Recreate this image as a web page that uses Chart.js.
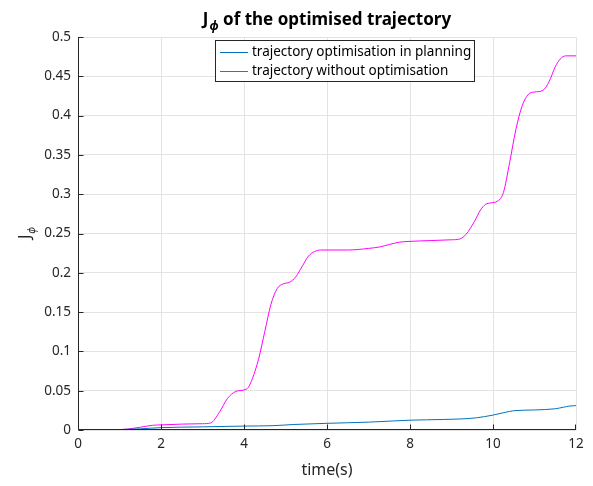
<!DOCTYPE html>
<html>
<head>
<meta charset="utf-8">
<script src="https://cdn.jsdelivr.net/npm/chart.js@4.4.1/dist/chart.umd.min.js"></script>
<style>
  html, body { margin: 0; padding: 0; background: #ffffff; }
  #wrap { width: 593px; height: 486px; position: relative; }
</style>
</head>
<body>
<div id="wrap"><canvas id="c" width="593" height="486"></canvas></div>
<script>
// Cost J_phi over time for the two trajectories
const seriesNames = ['trajectory optimisation in planning', 'trajectory without optimisation'];

const timePlanned = [0, 1.0, 1.5, 2.0, 3.0, 4.0, 4.7, 5.2, 6.0, 7.0, 7.6, 8.0, 8.4, 9.2, 9.6, 10.0, 10.3, 10.5, 11.0, 11.5, 11.7, 11.85, 12.0];
const jPlanned    = [0, 0.0005, 0.0015, 0.003, 0.004, 0.005, 0.0055, 0.007, 0.0085, 0.010, 0.0115, 0.0125, 0.013, 0.014, 0.0155, 0.019, 0.0225, 0.0245, 0.0255, 0.027, 0.029, 0.0305, 0.031];

const timeRaw = [0, 1.0, 1.2, 1.5, 1.8, 2.0, 2.5, 3.0, 3.2, 3.4, 3.6, 3.8, 4.0, 4.1, 4.2, 4.35, 4.5, 4.65, 4.8, 4.95,
                 5.1, 5.25, 5.4, 5.55, 5.7, 5.85, 6.0, 6.5, 7.0, 7.28, 7.5, 7.75, 8.0, 8.5, 9.0, 9.2, 9.35, 9.55,
                 9.7, 9.82, 9.95, 10.1, 10.25, 10.4, 10.55, 10.7, 10.85, 11.0, 11.2, 11.35, 11.5, 11.62, 11.75, 12.0];
const jRaw    = [0, 0.0005, 0.0012, 0.0035, 0.006, 0.0065, 0.0075, 0.008, 0.009, 0.022, 0.040, 0.049, 0.051, 0.054, 0.065, 0.09, 0.125, 0.16, 0.18, 0.186,
                 0.188, 0.195, 0.208, 0.221, 0.227, 0.229, 0.229, 0.229, 0.231, 0.233, 0.236, 0.239, 0.240, 0.241, 0.242, 0.243, 0.249, 0.265,
                 0.280, 0.287, 0.289, 0.291, 0.302, 0.340, 0.382, 0.412, 0.427, 0.430, 0.432, 0.443, 0.462, 0.472, 0.476, 0.476];

const xTicks = [0, 2, 4, 6, 8, 10, 12];
const yTicks = [0, 0.05, 0.1, 0.15, 0.2, 0.25, 0.3, 0.35, 0.4, 0.45, 0.5];

const FONT = '"Noto Sans", "Open Sans", sans-serif';
const AXIS_COLOR = '#262626';

function toPoints(xs, ys) { return xs.map((x, i) => ({ x: x, y: ys[i] })); }

// Axis lines, inward ticks, titles and the legend box, drawn MATLAB-style
const decorations = {
  id: 'decorations',
  afterDraw(chart) {
    const ctx = chart.ctx;
    const a = chart.chartArea;
    const xs = chart.scales.x, ys = chart.scales.y;
    ctx.save();

    // left and bottom axis lines
    const L = Math.round(a.left) + 0.5, B = Math.round(a.bottom) - 0.5;
    ctx.strokeStyle = AXIS_COLOR;
    ctx.lineWidth = 1;
    ctx.beginPath();
    ctx.moveTo(L, Math.round(a.top));
    ctx.lineTo(L, B);
    ctx.lineTo(Math.round(a.right), B);
    ctx.stroke();

    // inward tick marks
    const tl = 5;
    ctx.beginPath();
    xTicks.forEach(v => {
      const px = Math.min(Math.round(xs.getPixelForValue(v)) + 0.5, Math.round(a.right) - 0.5);
      ctx.moveTo(px, B); ctx.lineTo(px, B - tl);
    });
    yTicks.forEach(v => {
      const py = Math.max(Math.round(ys.getPixelForValue(v)) + 0.5, Math.round(a.top) + 0.5);
      ctx.moveTo(L, py); ctx.lineTo(L + tl, py);
    });
    ctx.stroke();

    // title: J_phi of the optimised trajectory
    const cx = (a.left + a.right) / 2;
    ctx.fillStyle = '#000000';
    ctx.textBaseline = 'alphabetic';
    const titleFont = 'bold 17px ' + FONT;
    const subFont = 'italic bold 12px ' + FONT;
    ctx.font = titleFont;
    const partJ = 'J';
    const rest = ' of the optimised trajectory';
    const wJ = ctx.measureText(partJ).width;
    const wRest = ctx.measureText(rest).width;
    ctx.font = subFont;
    const wPhi = ctx.measureText('\u03d5').width;
    const total = wJ + wPhi + wRest + 1;
    const tx = cx - total / 2;
    const ty = 25;
    ctx.textAlign = 'left';
    ctx.font = titleFont;
    ctx.fillText(partJ, tx, ty);
    ctx.font = subFont;
    ctx.fillText('\u03d5', tx + wJ + 1, ty + 5);
    ctx.font = titleFont;
    ctx.fillText(rest, tx + wJ + wPhi + 1, ty);

    // x axis title
    ctx.fillStyle = AXIS_COLOR;
    ctx.font = '16px ' + FONT;
    ctx.textAlign = 'center';
    ctx.fillText('time(s)', cx, 475);

    // y axis title: J_phi (rotated)
    ctx.save();
    ctx.translate(30, (a.top + a.bottom) / 2);
    ctx.rotate(-Math.PI / 2);
    ctx.font = '16px ' + FONT;
    ctx.textAlign = 'left';
    const wJy = ctx.measureText('J').width;
    ctx.font = 'italic 10px ' + FONT;
    const wPy = ctx.measureText('\u03d5').width;
    const sx = -(wJy + wPy) / 2;
    ctx.font = '16px ' + FONT;
    ctx.fillText('J', sx, 0);
    ctx.font = 'italic 10px ' + FONT;
    ctx.fillText('\u03d5', sx + wJy + 1, 5);
    ctx.restore();

    // legend box
    const lx = 215, ly = 40, lw = 259, lh = 41;
    ctx.fillStyle = '#ffffff';
    ctx.fillRect(lx, ly, lw, lh);
    ctx.strokeStyle = AXIS_COLOR;
    ctx.lineWidth = 1;
    ctx.strokeRect(lx + 0.5, ly + 0.5, lw, lh);
    ctx.font = '13.5px ' + FONT;
    ctx.textAlign = 'left';
    ctx.textBaseline = 'middle';
    chart.data.datasets.forEach((ds, i) => {
      const rowY = ly + 12 + i * 19;
      ctx.strokeStyle = ds.borderColor;
      ctx.beginPath();
      ctx.moveTo(lx + 5, Math.round(rowY) + 0.5);
      ctx.lineTo(lx + 33, Math.round(rowY) + 0.5);
      ctx.stroke();
      ctx.fillStyle = '#000000';
      ctx.fillText(ds.label, lx + 37, rowY);
    });

    ctx.restore();
  }
};

new Chart(document.getElementById('c'), {
  type: 'line',
  data: {
    datasets: [
      {
        label: seriesNames[0],
        data: toPoints(timePlanned, jPlanned),
        borderColor: '#0072bd',
        borderWidth: 1,
        pointRadius: 0,
        cubicInterpolationMode: 'monotone',
        fill: false
      },
      {
        label: seriesNames[1],
        data: toPoints(timeRaw, jRaw),
        borderColor: '#ff00ff',
        borderWidth: 1,
        pointRadius: 0,
        cubicInterpolationMode: 'monotone',
        fill: false
      }
    ]
  },
  options: {
    responsive: false,
    animation: false,
    layout: { padding: { left: 0, top: 37, right: 17, bottom: 0 } },
    plugins: { legend: { display: false }, title: { display: false }, tooltip: { enabled: false } },
    scales: {
      x: {
        type: 'linear',
        min: 0, max: 12,
        afterFit(scale) { scale.height = 56; },
        afterBuildTicks(scale) { scale.ticks = xTicks.map(v => ({ value: v })); },
        grid: { color: '#e3e3e3', drawTicks: false, lineWidth: 1 },
        border: { display: false },
        ticks: { color: AXIS_COLOR, font: { family: FONT, size: 13.5 }, padding: 6, maxRotation: 0,
                 callback: v => String(v) }
      },
      y: {
        type: 'linear',
        min: 0, max: 0.5,
        afterFit(scale) { scale.width = 78; },
        afterBuildTicks(scale) { scale.ticks = yTicks.map(v => ({ value: v })); },
        grid: { color: '#e3e3e3', drawTicks: false, lineWidth: 1 },
        border: { display: false },
        ticks: { color: AXIS_COLOR, font: { family: FONT, size: 13.5 }, padding: 7,
                 callback: v => String(Number(v.toFixed(2))) }
      }
    }
  },
  plugins: [decorations]
});
</script>
</body>
</html>
